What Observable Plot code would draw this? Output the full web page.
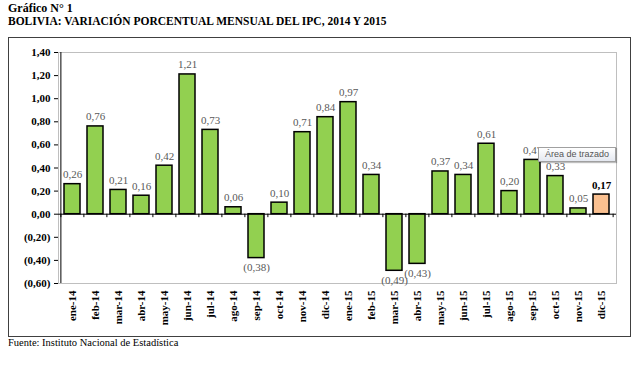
<!DOCTYPE html>
<html>
<head>
<meta charset="utf-8">
<script src="https://cdn.jsdelivr.net/npm/d3@7"></script>
<script src="https://cdn.jsdelivr.net/npm/@observablehq/plot@0.6"></script>
<style>
  html, body { margin: 0; padding: 0; background: #fff; }
  body { width: 640px; height: 370px; position: relative; overflow: hidden; font-family: "Liberation Serif", serif; }
  #t1 { position: absolute; left: 8px; top: 1px; font-weight: bold; font-size: 12px; color: #000; }
  #t2 { position: absolute; left: 8px; top: 15px; font-weight: bold; font-size: 11.5px; color: #000; }
  #box { position: absolute; left: 8px; top: 37px; width: 621px; height: 298px; border: 1px solid #404040; }
  #chart { position: absolute; left: 0; top: 0; }
  #foot { position: absolute; left: 8px; top: 337px; font-size: 10.5px; color: #000; }
  #tip { position: absolute; left: 538px; top: 147px; width: 76px; height: 13px; border: 1px solid #a0a0a0;
         background: linear-gradient(#ffffff, #e4e8f0); font-family: "Liberation Sans", sans-serif; font-size: 9px;
         color: #555; line-height: 13px; text-align: center; box-shadow: 1px 1px 1px rgba(0,0,0,0.25); }
</style>
</head>
<body>
<div id="t1">Gráfico N° 1</div>
<div id="t2">BOLIVIA: VARIACIÓN PORCENTUAL MENSUAL DEL IPC, 2014 Y 2015</div>
<div id="box"><div id="chart"></div></div>
<div id="foot">Fuente: Instituto Nacional de Estadística</div>
<div id="tip">Área de trazado</div>
<script>
const months = ["ene-14","feb-14","mar-14","abr-14","may-14","jun-14","jul-14","ago-14","sep-14","oct-14","nov-14","dic-14",
                "ene-15","feb-15","mar-15","abr-15","may-15","jun-15","jul-15","ago-15","sep-15","oct-15","nov-15","dic-15"];
const values = [0.26,0.76,0.21,0.16,0.42,1.21,0.73,0.06,-0.38,0.10,0.71,0.84,
                0.97,0.34,-0.49,-0.43,0.37,0.34,0.61,0.20,0.47,0.33,0.05,0.17];
const highlight = "dic-15";
const yTicks = [-0.6,-0.4,-0.2,0,0.2,0.4,0.6,0.8,1.0,1.2,1.4];

const data = months.map((m, i) => ({month: m, value: values[i]}));
const fmt = v => { const s = Math.abs(v).toFixed(2).replace(".", ","); return v < 0 ? `(${s})` : s; };

const W = 621, H = 298, ML = 49, MR = 14, MT = 14, MB = 53;
const step = (W - ML - MR) / months.length;

const chart = Plot.plot({
  width: W, height: H,
  marginLeft: ML, marginRight: MR, marginTop: MT, marginBottom: MB,
  style: {fontFamily: "'Liberation Serif', serif", background: "transparent", overflow: "visible"},
  x: {domain: months, paddingInner: 0.3, paddingOuter: 0.15, label: null},
  y: {domain: [-0.6, 1.4], label: null},
  marks: [
    Plot.frame({stroke: "#bfbfbf"}),
    Plot.barY(data, {x: "month", y: "value",
      fill: d => d.month === highlight ? "#FAC090" : "#92D050",
      stroke: "black", strokeWidth: 1.5}),
    Plot.ruleY([0], {stroke: "black"}),
    Plot.ruleX(months, {x: d => d, y1: 0, y2: -0.03, dx: -step / 2, stroke: "black"}),
    Plot.ruleX([months[months.length - 1]], {x: d => d, y1: 0, y2: -0.03, dx: step / 2, stroke: "black"}),
    Plot.ruleX([months[0]], {x: d => d, y1: -0.6, y2: 1.4, dx: -step / 2, stroke: "black"}),
    Plot.axisY({ticks: yTicks, tickFormat: fmt, tickSize: 4, tickPadding: 4, fontWeight: "bold", fontSize: 11, label: null}),
    Plot.axisX({tickRotate: -90, tickSize: 0, tickPadding: 7, fontWeight: "bold", fontSize: 11, label: null}),
    Plot.text(data.filter(d => d.value >= 0 && d.month !== highlight), {x: "month", y: "value", text: d => fmt(d.value),
      lineAnchor: "bottom", dy: -6, fill: "#595959", fontSize: 11}),
    Plot.text(data.filter(d => d.value < 0), {x: "month", y: "value", text: d => fmt(d.value),
      lineAnchor: "top", dy: 5, fill: "#595959", fontSize: 11}),
    Plot.text(data.filter(d => d.month === highlight), {x: "month", y: "value", text: d => fmt(d.value),
      lineAnchor: "bottom", dy: -6, fill: "#000", fontWeight: "bold", fontSize: 11})
  ]
});
document.getElementById("chart").appendChild(chart);
</script>
</body>
</html>
